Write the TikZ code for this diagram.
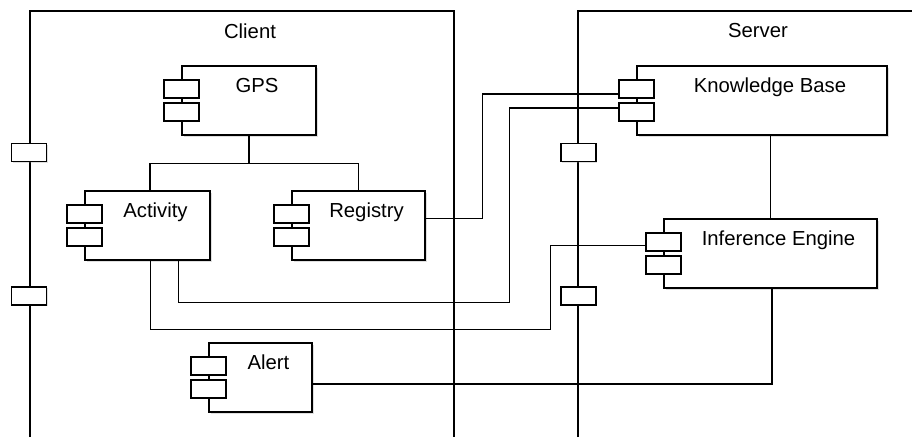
\documentclass[tikz,border=0pt]{standalone}
\usepackage{fontspec}
\setmainfont{Liberation Sans}
\usetikzlibrary{shadows}

\begin{document}
\begin{tikzpicture}[x=1pt,y=-1pt,
  frame/.style={line width=1.4pt},
  link/.style={line width=1.3pt},
  compbox/.style={draw,line width=1.4pt,fill=white,inner sep=0pt,minimum height=69pt,
    drop shadow={shadow xshift=1.5pt,shadow yshift=-1.5pt,opacity=0.25}},
  compicon/.style={draw,line width=1.4pt,fill=white,inner sep=0pt,minimum width=35pt,minimum height=18pt,
    drop shadow={shadow xshift=1pt,shadow yshift=-1pt,opacity=0.25}},
  comptext/.style={anchor=base,font=\fontsize{20.3}{24}\selectfont},
  framename/.style={font=\fontsize{20.3}{24}\selectfont}]
\useasboundingbox (0,0) rectangle (912,437);

% Frames
\draw[frame] (30,437) -- (30,11) -- (454,11) -- (454,437);
\draw[frame] (578,437) -- (578,11) -- (912,11);
\node[framename] (clientname) at (250,31) {Client};
\node[framename] (servername) at (758,31) {Server};

% Ports on the frames
\node[compicon] (cport1) at (29,152.5) {};
\node[compicon] (cport2) at (29,296) {};
\node[compicon] (sport1) at (578.5,152.5) {};
\node[compicon] (sport2) at (578.5,296) {};

% Client components
\node[compbox,minimum width=134pt] (gps) at (249,100.5) {};
\node[compbox,minimum width=125pt] (act) at (147.5,225.5) {};
\node[compbox,minimum width=133pt] (reg) at (358.5,225.5) {};
\node[compbox,minimum width=103pt] (alert) at (260.5,377.5) {};

% Server components
\node[compbox,minimum width=250pt] (kb) at (762,100.5) {};
\node[compbox,minimum width=213pt] (ie) at (770.5,253.5) {};

% Connectors
\draw[link] (gps.south) -- ([yshift=-28pt]gps.south);
\draw[link] ([xshift=2.5pt]act.north) |- ([yshift=-28pt]gps.south) -| (reg.north);
\draw[link] (ie.north |- kb.south) -- (ie.north);
\draw[link] ([yshift=7pt]reg.east) -- ++(57,0) |- (kb.west |- 0,94);
\draw[link] ([xshift=31pt]act.south) |- ++(331,42) |- (kb.west |- 0,108);
\draw[link] ([xshift=3pt]act.south) |- ++(400,69) |- (ie.west |- 0,245.5);
\draw[link] ([xshift=1.5pt]ie.south) |- ([yshift=-6.5pt]alert.east);

% Component icons
\node[compicon] (gpsi1) at ([yshift=11.5pt]gps.west) {};
\node[compicon] (gpsi2) at ([yshift=-11.5pt]gps.west) {};
\node[compicon] (acti1) at ([yshift=11.5pt]act.west) {};
\node[compicon] (acti2) at ([yshift=-11.5pt]act.west) {};
\node[compicon] (regi1) at ([yshift=11.5pt]reg.west) {};
\node[compicon] (regi2) at ([yshift=-11.5pt]reg.west) {};
\node[compicon] (alerti1) at ([yshift=11.5pt]alert.west) {};
\node[compicon] (alerti2) at ([yshift=-11.5pt]alert.west) {};
\node[compicon] (kbi1) at ([yshift=11.5pt]kb.west) {};
\node[compicon] (kbi2) at ([yshift=-11.5pt]kb.west) {};
\node[compicon] (iei1) at ([yshift=11.5pt]ie.west) {};
\node[compicon] (iei2) at ([yshift=-11.5pt]ie.west) {};

% Names
\node[comptext] (gpsname) at ([xshift=8pt,yshift=-27pt]gps.north) {GPS};
\node[comptext] (actname) at ([xshift=8pt,yshift=-27pt]act.north) {Activity};
\node[comptext] (regname) at ([xshift=8pt,yshift=-27pt]reg.north) {Registry};
\node[comptext] (alertname) at ([xshift=8pt,yshift=-27pt]alert.north) {Alert};
\node[comptext] (kbname) at ([xshift=8pt,yshift=-27pt]kb.north) {Knowledge Base};
\node[comptext] (iename) at ([xshift=8pt,yshift=-27pt]ie.north) {Inference Engine};
\end{tikzpicture}
\end{document}
